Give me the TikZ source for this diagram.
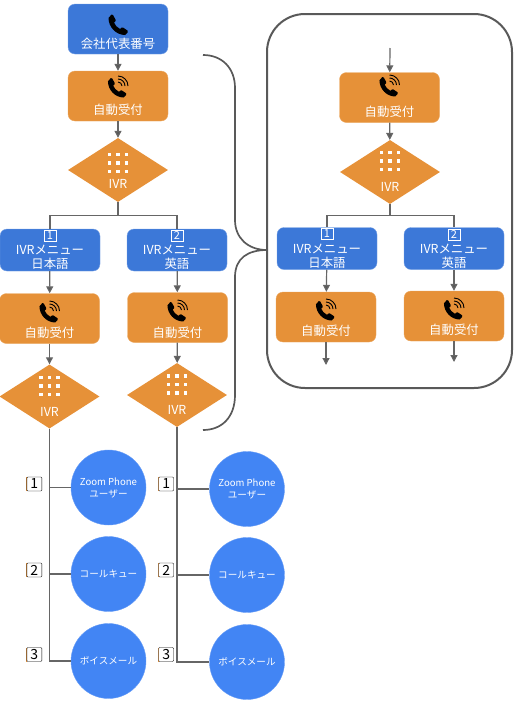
\documentclass[tikz,border=0pt]{standalone}
\usepackage{fontspec}
\usepackage{xcolor}
\usetikzlibrary{arrows.meta, shapes.geometric}
\setmainfont{Noto Sans CJK JP}
\definecolor{zBlue}{HTML}{3C78D8}
\definecolor{zSky}{HTML}{4285F4}
\definecolor{zOrange}{HTML}{E69138}
\definecolor{zLine}{HTML}{666666}
\definecolor{zDark}{HTML}{595959}
\tikzset{
  bluebox/.style={rectangle,rounded corners=7pt,fill=zBlue,draw=zBlue!70!white,minimum width=100pt,inner sep=0pt},
  orangebox/.style={rectangle,rounded corners=7pt,fill=zOrange,draw=zOrange!80!white,minimum width=100pt,minimum height=50pt,inner sep=0pt},
  orangedia/.style={diamond,fill=zOrange,minimum width=100pt,minimum height=64pt,inner sep=0pt},
  callcirc/.style={circle,fill=zSky,draw=zSky!80!white,minimum size=75pt,inner sep=0pt,text=white,font=\fontsize{9.6pt}{12pt}\selectfont,align=center},
  boxtext/.style={text=white,font=\fontsize{12.4pt}{14pt}\selectfont,align=center,inner sep=0pt},
  whitekey/.style={draw=white,text=white,minimum size=11.5pt,inner sep=0pt,font=\fontsize{11pt}{11pt}\selectfont},
  blackkey/.style={draw=black,fill=white,rounded corners=1pt,minimum width=15pt,minimum height=14pt,inner sep=0pt,font=\fontsize{14pt}{14pt}\selectfont},
  link/.style={draw=zLine,line width=1.2pt},
  arr/.style={link,-{Triangle[length=7pt,width=7pt,fill=zDark]}},
  phoneicon/.pic={
    \fill[black] (-9.5,-7) .. controls (-9.5,2) and (-2,10) .. (7,10) -- (9.5,7.5)
      .. controls (10,6.5) .. (9.5,5.5) -- (5,2.5) .. controls (4.4,2.2) .. (3.5,2.7) -- (2,4)
      .. controls (-1,2.5) and (-3,0) .. (-4,-2.5) -- (-2.5,-4) .. controls (-2.2,-4.8) .. (-2.5,-5.5)
      -- (-5,-10) .. controls (-5.5,-10.6) .. (-6.5,-10.5) -- cycle;
  },
  wavephone/.pic={
    \pic[scale=.95] at (-1,1) {phoneicon};
    \foreach \r in {4,7,10}
      \draw[black,line width=.9pt] (\r,-1) arc[start angle=0,end angle=-90,radius=\r];
  },
  keygrid/.pic={
    \foreach \i in {-8.5,0,8.5}
      \foreach \j in {-8.5,0,8.5}
        \fill[white] (\i-1.9,\j-1.9) rectangle (\i+1.9,\j+1.9);
  }
}
\begin{document}
\begin{tikzpicture}[x=1pt,y=-1pt]
  \useasboundingbox (0,0) rectangle (517,705);
  \node[draw=zDark,line width=2pt,rounded corners=38pt,minimum width=245pt,minimum height=374pt] (frame) at (389.5,201) {};

  \node[bluebox,minimum height=50pt] (mainNo) at (118,29) {};
  \pic at (118,25) {phoneicon};
  \node[boxtext] (mainNoText) at (118,44) {会社代表番号};

  % auto attendants: name/centre/phone y/text y
  \foreach \n/\x/\y/\py/\ty in {recvA/118/96/87/110,recvB/49.5/318.5/312/333,recvC/177.5/317.5/311/332.5,recvD/389.5/97.5/86/112,recvE/326/317/310/331,recvF/454/316/309/330} {
    \node[orangebox] (\n) at (\x,\y) {};
    \pic at (\x,\py) {wavephone};
    \node[boxtext] (\n Text) at (\x,\ty) {自動受付};
  }

  % menus: name/centre/key y/digit/second line
  \foreach \n/\x/\y/\ky/\d/\t in {menuA/50/250/235.5/1/日本語,menuB/177/250/235.5/2/英語,menuC/327/248.5/233.5/1/日本語,menuD/454/248.5/234.5/2/英語} {
    \node[bluebox,minimum height=42pt] (\n) at (\x,\y) {};
    \node[whitekey] (\n Key) at (\x,\ky) {\d};
    \node[boxtext] (\n Text) at (\x,\y+7.5) {IVRメニュー\\\t};
  }

  % decisions: name/centre/grid y/text y
  \foreach \n/\x/\y/\gy/\ty in {diaA/118/170/163/184,diaB/49.5/396.5/386/412,diaC/177/395/384.5/410,diaD/390/172/161/186.5} {
    \node[orangedia] (\n) at (\x,\y) {};
    \pic at (\x,\gy) {keygrid};
    \node[boxtext] (\n Text) at (\x,\ty) {IVR};
  }

  \node[callcirc] (userA) at (108.5,487.5) {Zoom Phone\\ユーザー};
  \node[callcirc] (userB) at (247,489) {Zoom Phone\\ユーザー};
  \node[callcirc] (queueA) at (108.5,574) {コールキュー};
  \node[callcirc] (queueB) at (247,575) {コールキュー};
  \node[callcirc] (mailA) at (108.5,661) {ボイスメール};
  \node[callcirc] (mailB) at (247,662) {ボイスメール};

  \foreach \n/\x/\y/\d in {keyA/34.3/484/1,keyB/34.3/570/2,keyC/34.3/654.5/3,keyD/166.2/484/1,keyE/166.2/570/2,keyF/166.2/654.5/3} {
    \draw[zOrange,line width=.7pt] (\x-8,\y-7) -- (\x-8,\y+7);
    \node[blackkey] (\n) at (\x,\y) {\d};
  }

  \draw[arr] (mainNo) -- (recvA);
  \draw[arr] (recvA) -- (diaA);
  \draw[link] (diaA.south) -- ++(0,13) coordinate (forkA) -| (menuA.north);
  \draw[link] (forkA) -| (menuB.north);
  \draw[arr] (menuA) -- (recvB);
  \draw[arr] (menuB) -- (recvC);
  \draw[arr] (recvB) -- (diaB);
  \draw[arr] (recvC) -- (diaC);
  \draw[link] (diaB.south) |- (userA.west);
  \draw[link] (diaB.south) |- (queueA.west);
  \draw[link] (diaB.south) |- (mailA.west);
  \draw[link] (diaC.south) |- (userB.west);
  \draw[link] (diaC.south) |- (queueB.west);
  \draw[link] (diaC.south) |- (mailB.west);

  \coordinate (inD) at (390,48);
  \coordinate (outE) at (326,365);
  \coordinate (outF) at (454,362);
  \draw[arr] (inD) -- (recvD);
  \draw[arr] (recvD) -- (diaD);
  \draw[link] (diaD.south) -- ++(0,11) coordinate (forkD) -| (menuC.north);
  \draw[link] (forkD) -| (menuD.north);
  \draw[arr] (menuC) -- (recvE);
  \draw[arr] (menuD) -- (recvF);
  \draw[arr] (recvE) -- (outE);
  \draw[arr] (recvF) -- (outF);

  \coordinate (braceTop) at (203,55);
  \coordinate (braceTip) at (267,250);
  \coordinate (braceEnd) at (203,430);
  \draw[zDark,line width=1.7pt] (braceTop) .. controls (222,55) and (235,68) .. (235,88) -- (235,220)
    .. controls (235,238) and (248,250) .. (braceTip)
    .. controls (248,250) and (235,258) .. (235,277) -- (235,395)
    .. controls (235,417) and (222,430) .. (braceEnd);
\end{tikzpicture}
\end{document}
